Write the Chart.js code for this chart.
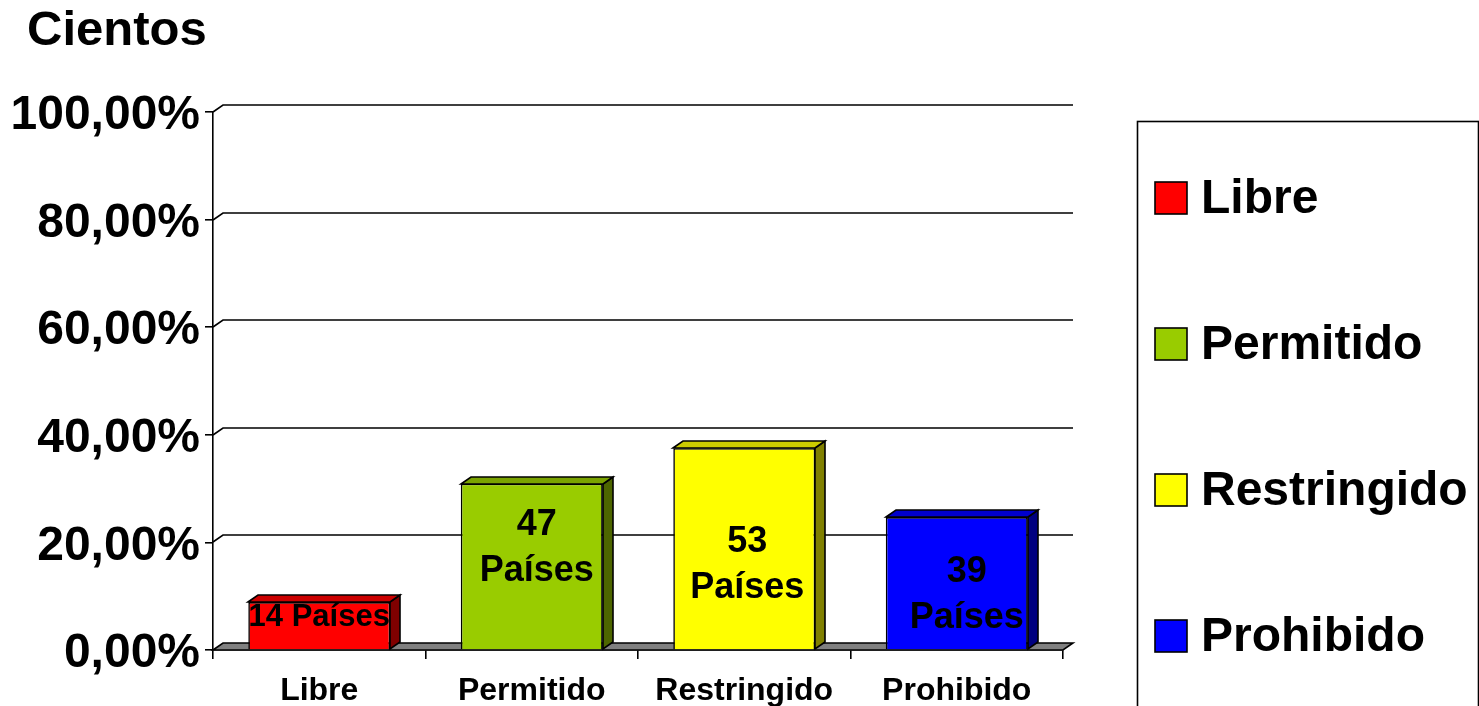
<!DOCTYPE html>
<html><head><meta charset="utf-8">
<script src="https://cdn.jsdelivr.net/npm/chart.js@4/dist/chart.umd.min.js"></script>
<style>html,body{margin:0;padding:0;background:#fff;}canvas{display:block}</style>
</head><body>
<canvas id="c" width="1479" height="706"></canvas>
<script>
// ---- data ----
const categories = ['Libre', 'Permitido', 'Restringido', 'Prohibido'];
const percentValues = [8.9, 30.9, 37.5, 24.7];
const countryCounts = [14, 47, 53, 39];
const countryWord = 'Países';
const yTicks = [0, 20, 40, 60, 80, 100];
const axisTitle = 'Cientos';

// ---- style ----
const barColors = ['#FF0000', '#99CC00', '#FFFF00', '#0000FF'];
const sideColors = ['#800000', '#4D6600', '#808000', '#000080'];
const topColors = ['#CC0000', '#7AA300', '#CCCC00', '#0000CC'];
const labelSingleLine = [true, false, false, false];
const labelFontSize = [31, 36, 36, 36];
const labelShiftY = [-8, -18, 16, 12];
const labelShiftX = [0, 5, 3, 10];
const FONT = '"Liberation Sans", Arial, Helvetica, sans-serif';
const DX = 10, DY = -7;
const LW = 1.6;

const fmtPct = v => v.toFixed(2).replace('.', ',') + '%';

const threeD = {
  id: 'threeD',
  beforeDatasetsDraw(chart) {
    const ctx = chart.ctx, y = chart.scales.y, a = chart.chartArea;
    ctx.save();
    ctx.strokeStyle = '#000'; ctx.lineWidth = LW;
    yTicks.forEach(v => {
      if (v === 0) return;
      const py = Math.round(y.getPixelForValue(v));
      ctx.beginPath();
      ctx.moveTo(a.left, py);
      ctx.lineTo(a.left + DX, py + DY);
      ctx.lineTo(a.right + DX, py + DY);
      ctx.stroke();
    });
    const by = Math.round(y.getPixelForValue(0));
    ctx.beginPath();
    ctx.moveTo(a.left, by);
    ctx.lineTo(a.left + DX, by + DY);
    ctx.lineTo(a.right + DX, by + DY);
    ctx.lineTo(a.right, by);
    ctx.closePath();
    ctx.fillStyle = '#808080';
    ctx.fill(); ctx.stroke();
    ctx.restore();
  },
  afterDatasetsDraw(chart) {
    const ctx = chart.ctx;
    const meta = chart.getDatasetMeta(0);
    ctx.save();
    ctx.strokeStyle = '#000'; ctx.lineWidth = LW; ctx.lineJoin = 'miter';
    meta.data.forEach((el, i) => {
      const p = el.getProps(['x', 'y', 'base', 'width'], true);
      const l = Math.round(p.x - p.width / 2), r = Math.round(p.x + p.width / 2);
      const t = Math.round(p.y), b = Math.round(p.base);
      // side
      ctx.beginPath();
      ctx.moveTo(r, t); ctx.lineTo(r + DX, t + DY); ctx.lineTo(r + DX, b + DY); ctx.lineTo(r, b); ctx.closePath();
      ctx.fillStyle = sideColors[i]; ctx.fill(); ctx.stroke();
      // top
      ctx.beginPath();
      ctx.moveTo(l, t); ctx.lineTo(l + DX, t + DY); ctx.lineTo(r + DX, t + DY); ctx.lineTo(r, t); ctx.closePath();
      ctx.fillStyle = topColors[i]; ctx.fill(); ctx.stroke();
    });
    // labels
    ctx.fillStyle = '#000';
    ctx.textAlign = 'center'; ctx.textBaseline = 'middle';
    meta.data.forEach((el, i) => {
      const p = el.getProps(['x', 'y', 'base', 'width'], true);
      const fs = labelFontSize[i];
      ctx.font = 'bold ' + fs + 'px ' + FONT;
      const lines = labelSingleLine[i] ? [countryCounts[i] + ' ' + countryWord] : [String(countryCounts[i]), countryWord];
      const lh = fs * 1.28;
      const cy = (p.y + p.base) / 2 + labelShiftY[i];
      const cx = p.x + labelShiftX[i];
      lines.forEach((s, k) => {
        ctx.fillText(s, cx, cy + (k - (lines.length - 1) / 2) * lh);
      });
    });
    ctx.restore();
  },
  afterDraw(chart) {
    const ctx = chart.ctx;
    ctx.save();
    // axis title
    ctx.fillStyle = '#000';
    ctx.font = 'bold 49px ' + FONT;
    ctx.textAlign = 'left'; ctx.textBaseline = 'middle';
    ctx.fillText(axisTitle, 27, 31);
    // legend
    ctx.strokeStyle = '#000'; ctx.lineWidth = 1.6;
    ctx.strokeRect(1137.5, 121.5, 341, 620);
    ctx.font = 'bold 48px ' + FONT;
    categories.forEach((c, i) => {
      const cy = 198 + i * 146;
      ctx.fillStyle = barColors[i];
      ctx.fillRect(1155, cy - 16, 32, 32);
      ctx.lineWidth = 1.6;
      ctx.strokeRect(1155, cy - 16, 32, 32);
      ctx.fillStyle = '#000';
      ctx.fillText(c, 1201, cy + 2);
    });
    ctx.restore();
  }
};

new Chart(document.getElementById('c'), {
  type: 'bar',
  data: {
    labels: categories,
    datasets: [{
      data: percentValues,
      backgroundColor: barColors,
      borderColor: '#000',
      borderWidth: 1.6,
      categoryPercentage: 1,
      barPercentage: 0.668
    }]
  },
  options: {
    responsive: false,
    animation: false,
    events: [],
    layout: { padding: { left: 0, top: 112, right: 416, bottom: 0 } },
    plugins: { legend: { display: false }, tooltip: { enabled: false }, title: { display: false } },
    scales: {
      x: {
        afterFit: s => { s.height = 56; },
        grid: { offset: true, drawOnChartArea: false, tickLength: 9, color: '#000', lineWidth: 1.6 },
        border: { color: '#000', width: 1.6 },
        ticks: { color: '#000', padding: 13, maxRotation: 0, font: { family: FONT, size: 32, weight: 'bold' } }
      },
      y: {
        min: 0, max: 100,
        afterFit: s => { s.width = 213; },
        afterBuildTicks: s => { s.ticks = yTicks.map(v => ({ value: v })); },
        grid: { drawOnChartArea: false, tickLength: 8, color: '#000', lineWidth: 1.6 },
        border: { color: '#000', width: 1.6 },
        ticks: { color: '#000', padding: 5, labelOffset: 4, callback: v => fmtPct(v), font: { family: FONT, size: 48, weight: 'bold' } }
      }
    }
  },
  plugins: [threeD]
});
</script>
</body></html>
